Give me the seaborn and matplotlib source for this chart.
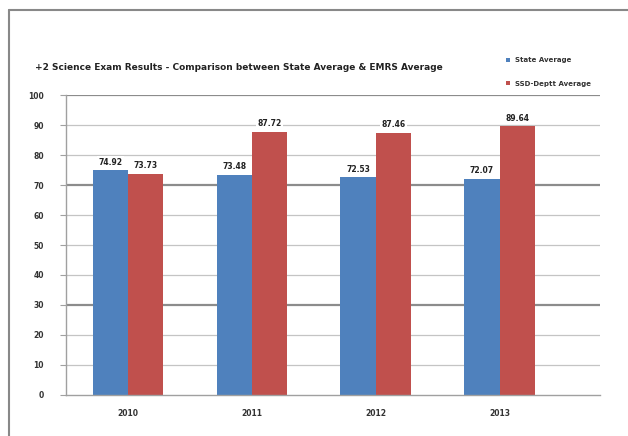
import matplotlib
matplotlib.use("Agg")
import matplotlib.pyplot as plt
import seaborn as sns
import pandas as pd
from matplotlib.lines import Line2D

years = ["2010", "2011", "2012", "2013"]
state_avg = [74.92, 73.48, 72.53, 72.07]
dept_avg = [73.73, 87.72, 87.46, 89.64]
series_names = ["State Average", "SSD-Deptt Average"]
title = "+2 Science Exam Results - Comparison between State Average & EMRS Average"
yticks = list(range(0, 101, 10))

df = pd.DataFrame({
    "Year": years * 2,
    "Value": state_avg + dept_avg,
    "Series": [series_names[0]] * 4 + [series_names[1]] * 4,
})

sns.set_style("white")
plt.rcParams['font.family'] = ['DejaVu Sans']

fig = plt.figure(figsize=(6.28, 4.36), dpi=100)
ax = fig.add_axes([66/628, 1 - 395/436, (600 - 66)/628, 300/436])

palette = ["#4F81BD", "#C0504D"]
sns.barplot(data=df, x="Year", y="Value", hue="Series", palette=palette,
            width=0.57, gap=0, ax=ax, legend=True, saturation=1,
            edgecolor="none", linewidth=0)

ax.set_xlim(-0.5, 3.81)
ax.set_ylim(0, 100)
ax.set_yticks(yticks)
ax.set_yticklabels([str(t) for t in yticks], fontsize=5.5, fontweight="bold", color="#333333")
ax.set_xticks(range(len(years)))
ax.set_xticklabels(years, fontsize=5.5, fontweight="bold", color="#333333")
ax.set_xlabel("")
ax.set_ylabel("")

for t in yticks[1:]:
    dark = t in (30, 70, 100)
    ax.axhline(t, color="#8c8c8c" if dark else "#c4c4c4",
               lw=1.6 if dark else 0.9, zorder=0.5)

for s in ["top", "right"]:
    ax.spines[s].set_visible(False)
ax.spines["left"].set_color("#a0a0a0")
ax.spines["bottom"].set_color("#a0a0a0")
ax.spines["left"].set_linewidth(1.0)
ax.spines["bottom"].set_linewidth(1.0)
ax.tick_params(axis="y", length=4, width=0.8, color="#a0a0a0", pad=12, left=True)
ax.tick_params(axis="x", length=0, pad=10)

for cont in ax.containers:
    for bar in cont:
        h = bar.get_height()
        ax.annotate(f"{h:.2f}", (bar.get_x() + bar.get_width()/2, h),
                    xytext=(0, 2.5), textcoords="offset points",
                    ha="center", va="bottom", fontsize=5.5, fontweight="bold",
                    color="#222222",
                    bbox=dict(boxstyle="square,pad=0.2", fc="white", ec="none"))

leg = ax.legend(loc="upper left", bbox_to_anchor=(503/628, 1 - 54/436),
                bbox_transform=fig.transFigure, frameon=False,
                fontsize=5, handlelength=0.5, handleheight=0.5,
                labelspacing=2.5, handletextpad=0.7, borderpad=0)
for txt in leg.get_texts():
    txt.set_fontweight("bold")
    txt.set_color("#333333")

fig.text(35/628, 1 - 67/436, title, fontsize=6.5, fontweight="bold",
         color="#222222", va="center", ha="left")

fig.add_artist(Line2D([9/628, 9/628], [0, 1 - 10/436], color="#888888", lw=1.5,
                      transform=fig.transFigure))
fig.add_artist(Line2D([9/628, 1], [1 - 10/436, 1 - 10/436], color="#888888", lw=1.5,
                      transform=fig.transFigure))

fig.savefig("out.png", dpi=100)
